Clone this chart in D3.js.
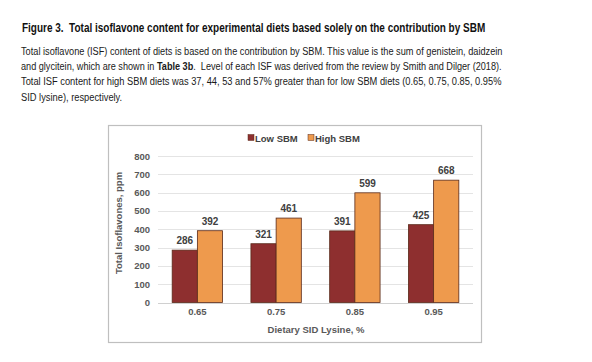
<!DOCTYPE html>
<html>
<head>
<meta charset="utf-8">
<script src="https://cdn.jsdelivr.net/npm/d3@7"></script>
<style>
  body { margin: 0; background: #fff; }
  svg { display: block; }
  .para { font-family: "Liberation Sans", Arial, sans-serif; font-size: 11.5px; fill: #1a1a1a; white-space: pre; }
  .chart text { font-family: "Liberation Sans", Arial, sans-serif; font-weight: bold; fill: #595959; }
</style>
</head>
<body>
<svg id="fig" width="592" height="362"></svg>
<script>
// data
var categories = ["0.65", "0.75", "0.85", "0.95"];
var seriesNames = ["Low SBM", "High SBM"];
var lowSBM = [286, 321, 391, 425];
var highSBM = [392, 461, 599, 668];
var yTicks = [0, 100, 200, 300, 400, 500, 600, 700, 800];
var colors = ["#8e2f2f", "#ee9a4d"];

var svg = d3.select("#fig");

// squeeze a text horizontally so it spans the given width (the original uses a narrow font)
function fitWidth(sel, x, y, w, sc) {
  var natural = sel.node().getComputedTextLength();
  var s = sc || (w / natural);
  sel.attr("transform", "translate(" + x + "," + y + ") scale(" + s + ",1)");
  return s;
}

// heading + caption text
var title = svg.append("text")
  .style("font-family", "'Liberation Sans', Arial, sans-serif")
  .style("white-space", "pre")
  .style("font-weight", "bold").style("font-size", "12.5px").style("fill", "#111")
  .text("Figure 3.  Total isoflavone content for experimental diets based solely on the contribution by SBM");
fitWidth(title, 22, 32, 464);

var lines = [
  [{t: "Total isoflavone (ISF) content of diets is based on the contribution by SBM. This value is the sum of genistein, daidzein"}],
  [{t: "and glycitein, which are shown in "}, {t: "Table 3b", b: true}, {t: ".  Level of each ISF was derived from the review by Smith and Dilger (2018)."}],
  [{t: "Total ISF content for high SBM diets was 37, 44, 53 and 57% greater than for low SBM diets (0.65, 0.75, 0.85, 0.95%"}],
  [{t: "SID lysine), respectively."}]
];
var lineW = [482, 481, 481, 0];
var lastScale = 1;
lines.forEach(function (parts, i) {
  var t = svg.append("text").attr("class", "para");
  parts.forEach(function (p) {
    t.append("tspan").style("font-weight", p.b ? "bold" : "normal").text(p.t);
  });
  lastScale = fitWidth(t, 21, 55 + i * 15.2, lineW[i], lineW[i] ? null : lastScale);
});

// chart frame
var chart = svg.append("g").attr("class", "chart");
chart.append("rect")
  .attr("x", 108.5).attr("y", 125.5).attr("width", 373).attr("height", 217)
  .attr("fill", "#fff").attr("stroke", "#bfbfbf").attr("stroke-width", 1.2);

var plotL = 158, plotR = 473, plotT = 156, plotB = 302.5;

var x0 = d3.scaleBand().domain(categories).range([plotL, plotR])
  .paddingInner(0.36).paddingOuter(0.18);
var x1 = d3.scaleBand().domain(seriesNames).range([0, x0.bandwidth()]);
var y = d3.scaleLinear().domain([0, 800]).range([plotB, plotT]);

// gridlines
chart.append("g").selectAll("line").data(yTicks).enter().append("line")
  .attr("x1", plotL).attr("x2", plotR)
  .attr("y1", function (d) { return Math.round(y(d)) + 0.5; })
  .attr("y2", function (d) { return Math.round(y(d)) + 0.5; })
  .attr("stroke", function (d) { return d === 0 ? "#d0d0d0" : "#e4e4e4"; });

// y axis labels
var yAxis = d3.axisLeft(y).tickValues(yTicks).tickSize(0).tickPadding(0);
var ya = chart.append("g").attr("transform", "translate(" + 150 + ",0)").call(yAxis);
ya.select(".domain").remove();
ya.selectAll("text").style("font-size", "9.5px").style("fill", "#595959");

// x axis labels
var xAxis = d3.axisBottom(x0).tickSize(0).tickPadding(0);
var xa = chart.append("g").attr("transform", "translate(0," + 308 + ")").call(xAxis);
xa.select(".domain").remove();
xa.selectAll("text").style("font-size", "9.5px").style("fill", "#595959");

// bars
var rows = categories.map(function (c, i) {
  return {cat: c, vals: [lowSBM[i], highSBM[i]]};
});
var groups = chart.append("g").selectAll("g").data(rows).enter().append("g")
  .attr("transform", function (d) { return "translate(" + x0(d.cat) + ",0)"; });
groups.selectAll("rect").data(function (d) {
  return d.vals.map(function (v, k) { return {name: seriesNames[k], v: v, k: k}; });
}).enter().append("rect")
  .attr("x", function (d) { return x1(d.name); })
  .attr("y", function (d) { return y(d.v); })
  .attr("width", x1.bandwidth())
  .attr("height", function (d) { return plotB - y(d.v); })
  .attr("fill", function (d) { return colors[d.k]; })
  .attr("stroke", "#5a2a1a").attr("stroke-width", 0.8);

groups.selectAll("text.val").data(function (d) {
  return d.vals.map(function (v, k) { return {name: seriesNames[k], v: v}; });
}).enter().append("text").attr("class", "val")
  .attr("x", function (d) { return x1(d.name) + x1.bandwidth() / 2; })
  .attr("y", function (d) { return y(d.v) - 6; })
  .attr("text-anchor", "middle")
  .style("font-size", "10px").style("fill", "#404040")
  .text(function (d) { return d.v; });

// axis titles
chart.append("text")
  .attr("transform", "translate(122,223) rotate(-90)")
  .attr("text-anchor", "middle").style("font-size", "9.5px")
  .text("Total Isoflavones, ppm");
chart.append("text")
  .attr("x", 316).attr("y", 333)
  .attr("text-anchor", "middle").style("font-size", "9.5px")
  .text("Dietary SID Lysine, %");

// legend
var leg = chart.append("g").attr("transform", "translate(248,138)");
var legX = [0, 60];
seriesNames.forEach(function (n, i) {
  leg.append("rect").attr("x", legX[i]).attr("y", -3.5).attr("width", 6).attr("height", 6)
    .attr("fill", colors[i]).attr("stroke", "#5a2a1a").attr("stroke-width", 0.5);
  leg.append("text").attr("x", legX[i] + 7).attr("y", 3.5)
    .style("font-size", "9.5px").style("fill", "#404040").text(n);
});
</script>
</body>
</html>
